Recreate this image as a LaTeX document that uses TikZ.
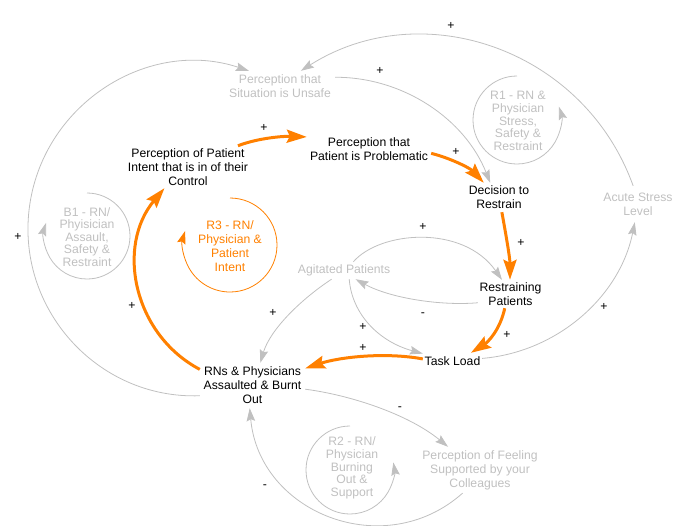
\documentclass[tikz,border=0pt]{standalone}
\usepackage{fontspec}
\setmainfont{Liberation Sans}
\usetikzlibrary{arrows.meta}
\definecolor{lgray}{RGB}{192,192,192}
\definecolor{orng}{RGB}{255,128,0}
\newcommand\vfont{\fontsize{12.2}{14}\selectfont}
\newcommand\lfont{\fontsize{12.2}{12.6}\selectfont}
\begin{document}
\begin{tikzpicture}[x=1pt,y=-1pt,
  var/.style={inner sep=0pt, font=\vfont, align=center},
  gvar/.style={var, text=lgray},
  loopl/.style={inner sep=0pt, font=\lfont, align=center, text=lgray},
  lbl/.style={inner sep=0pt, font=\vfont},
  glink/.style={draw=lgray, line width=0.8pt, -{Stealth[length=13pt,width=8.5pt,inset=2pt]}},
  olink/.style={draw=orng, line width=3pt, -{Stealth[length=20pt,width=13pt,inset=3pt]}},
  gloop/.style={draw=lgray, line width=0.8pt, -{Stealth[length=13pt,width=8.5pt,inset=2pt]}},
  oloop/.style={draw=orng, line width=0.8pt, -{Stealth[length=13pt,width=8.5pt,inset=2pt]}}]
\useasboundingbox (0,0) rectangle (690,525);

% variables
\node[gvar, minimum width=110pt, minimum height=30pt] (unsafe) at (280,86) {Perception that\\Situation is Unsafe};
\node[var, minimum width=126pt, minimum height=42pt] (intent) at (188,167) {Perception of Patient\\Intent that is in of their\\Control};
\node[var, minimum width=124pt, minimum height=26pt] (problem) at (369,149) {Perception that\\Patient is Problematic};
\node[var, minimum width=64pt, minimum height=29pt] (decision) at (499,197.5) {Decision to\\Restrain};
\node[var, minimum width=65pt, minimum height=28pt] (restr) at (510.5,294) {Restraining\\Patients};
\node[gvar, minimum width=96pt, minimum height=17pt] (agit) at (344,270.5) {Agitated Patients};
\node[var, minimum width=59pt, minimum height=16pt] (task) at (452.5,361) {Task Load};
\node[var, minimum width=105pt, minimum height=45pt] (rn) at (252.5,385.5) {RNs \& Physicians\\Assaulted \& Burnt\\Out};
\node[gvar, minimum width=120pt, minimum height=46pt] (feel) at (480,470) {Perception of Feeling\\Supported by your\\Colleagues};
\node[gvar, minimum width=72pt, minimum height=36pt] (acute) at (638,204) {Acute Stress\\Level};

% loop labels
\node[loopl] (r1) at (518,121) {R1 - RN \&\\Physician\\Stress,\\Safety \&\\Restraint};
\node[loopl] (b1) at (87,237) {B1 - RN/\\Phyisician\\Assault,\\Safety \&\\Restraint};
\node[loopl, text=orng, font=\vfont] (r3) at (230,246) {R3 - RN/\\Physician \&\\Patient\\Intent};
\node[loopl] (r2) at (352,468) {R2 - RN/\\Physician\\Burning\\Out \&\\Support};

% loop arcs
\draw[gloop] (517,76) arc[start angle=90, end angle=377.6, radius=44pt];
\draw[gloop] (87,193) arc[start angle=90, end angle=-197.7, radius=43pt];
\draw[oloop] (230,198) arc[start angle=90, end angle=-197.4, radius=47pt];
\draw[gloop] (350,426) arc[start angle=90, end angle=369.9, radius=44pt];

% gray links
\draw[glink] (rn.191.3) .. controls (97.1,399.5) and (14.8,307.7) .. (29.7,205) .. controls (44.6,102.3) and (149.6,37.7) .. (unsafe.154.9);
\draw[glink] (acute.105.5) .. controls (584,49) and (422,-6) .. (unsafe.36.87);
\draw[glink] (unsafe.9.29) .. controls (403,77) and (465,119) .. (decision.121.8);
\draw[glink] (agit.43.4) .. controls (380,231) and (463,224) .. (restr.121.3);
\draw[glink] (restr.195.5) .. controls (440,306) and (390,298) .. (agit.-37.7);
\draw[glink] (agit.-59.5) .. controls (352,315) and (380,342) .. (task.166.65);
\draw[glink] (agit.215.3) .. controls (300,300) and (270,330) .. (rn.71.6);
\draw[glink] (task.5.8) .. controls (558,352) and (620,296) .. (acute.260.5);
\draw[glink] (rn.-4.9) .. controls (350,395) and (408,414) .. (feel.144.3);
\draw[glink] (feel.233.5) .. controls (384.5,562.7) and (259.2,513.2) .. (rn.263.7);

% orange links
\draw[olink] (intent.23.2) .. controls (255,139) and (280,136) .. (problem.169.05);
\draw[olink] (problem.-4.6) .. controls (450,158) and (470,168) .. (decision.136);
\draw[olink] (decision.281.7) .. controls (506,235) and (510,258) .. (restr.92);
\draw[olink] (restr.248.5) .. controls (500,330) and (488,342) .. (task.24.6);
\draw[olink] (task.176.1) .. controls (385,352) and (340,357) .. (rn.18.4);
\draw[olink] (rn.163.55) .. controls (133,334) and (116,246) .. (intent.222.4);

% polarity labels
\node[lbl] (s1) at (451,26) {+};
\node[lbl] (s2) at (380,71) {+};
\node[lbl] (s3) at (264,128) {+};
\node[lbl] (s4) at (456,152) {+};
\node[lbl] (s5) at (18,237) {+};
\node[lbl] (s6) at (521,243) {+};
\node[lbl] (s7) at (423,227) {+};
\node[lbl] (s8) at (604,307) {+};
\node[lbl] (s9) at (423,315) {-};
\node[lbl] (s10) at (507,335) {+};
\node[lbl] (s11) at (363,327) {+};
\node[lbl] (s12) at (363,348) {+};
\node[lbl] (s13) at (273,313) {+};
\node[lbl] (s14) at (132,306) {+};
\node[lbl] (s15) at (400,409) {-};
\node[lbl] (s16) at (265,487) {-};
\end{tikzpicture}
\end{document}
